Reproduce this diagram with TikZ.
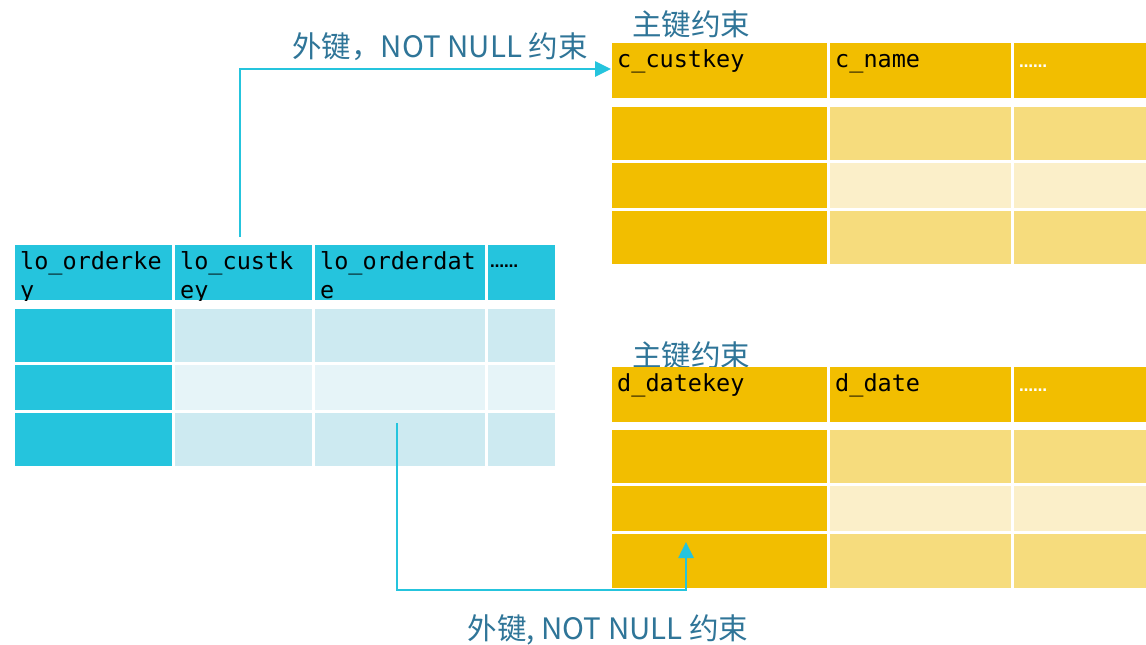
\documentclass[tikz,border=0pt]{standalone}
\usepackage{fontspec}
\usetikzlibrary{arrows.meta,calc}
\newfontfamily\cjkfont{Noto Sans CJK SC}
\newfontfamily\monofont{DejaVu Sans Mono}
\newfontfamily\dotfont{DejaVu Sans}
\definecolor{cyanH}{RGB}{37,196,221}
\definecolor{cyanL}{RGB}{205,234,241}
\definecolor{cyanLL}{RGB}{230,244,248}
\definecolor{goldH}{RGB}{242,190,0}
\definecolor{goldL}{RGB}{246,220,125}
\definecolor{goldLL}{RGB}{251,239,201}
\definecolor{lblblue}{RGB}{47,117,152}
\tikzset{
  cellbox/.style={rectangle,draw=none,inner sep=0pt,outer sep=0pt,anchor=north west},
  hdrtext/.style={anchor=base west,inner sep=0pt,
    font=\monofont\fontsize{23.5}{27}\selectfont,text=black},
  dotstext/.style={anchor=base west,inner sep=0pt,font=\dotfont\bfseries\fontsize{14}{14}\selectfont},
  lbltext/.style={inner sep=0pt,font=\cjkfont\fontsize{29.5}{32}\selectfont,text=lblblue},
  conn/.style={draw=cyanH,line width=2.6pt,-{Triangle[length=16pt,width=15pt]}},
}
\newcommand\cell[6]{\node[cellbox,fill=#6,minimum width={#4pt-#2pt},minimum height={#5pt-#3pt}] (#1) at (#2,#3) {};}
\newcommand\htext[6]{\begin{scope}\clip (#2,#3) rectangle (#4,#5); \node[hdrtext] (#1) at ({#2+5},{#3+24.5}) {\begin{tabular}[t]{@{}l@{}}#6\end{tabular}};\end{scope}}
\begin{document}
\begin{tikzpicture}[x=1pt,y=-1pt]
\useasboundingbox[fill=white] (0,0) rectangle (1146,645);
% labels (behind tables)
\node[lbltext] (pk1) at (691,24) {主键约束};
\node[lbltext] (pk2) at (691,355) {主键约束};
\node[lbltext] (fk1) at (440,47) {外键，NOT NULL 约束};
\node[lbltext] (fk2) at (608,630) {外键, NOT NULL 约束};
% left table
\cell{lh1}{15}{245}{172}{300}{cyanH}
\cell{lh2}{175}{245}{312}{300}{cyanH}
\cell{lh3}{315}{245}{485}{300}{cyanH}
\cell{lh4}{488}{245}{555}{300}{cyanH}
\cell{la1}{15}{309}{172}{362}{cyanH}
\cell{la2}{175}{309}{312}{362}{cyanL}
\cell{la3}{315}{309}{485}{362}{cyanL}
\cell{la4}{488}{309}{555}{362}{cyanL}
\cell{lb1}{15}{365}{172}{410}{cyanH}
\cell{lb2}{175}{365}{312}{410}{cyanLL}
\cell{lb3}{315}{365}{485}{410}{cyanLL}
\cell{lb4}{488}{365}{555}{410}{cyanLL}
\cell{lc1}{15}{413}{172}{466}{cyanH}
\cell{lc2}{175}{413}{312}{466}{cyanL}
\cell{lc3}{315}{413}{485}{466}{cyanL}
\cell{lc4}{488}{413}{555}{466}{cyanL}
\htext{lt1}{15}{245}{172}{300}{lo\_orderke\\[2pt]y}
\htext{lt2}{175}{245}{312}{300}{lo\_custk\\[2pt]ey}
\htext{lt3}{315}{245}{485}{300}{lo\_orderdat\\[2pt]e}
\node[dotstext,text=black] (ld) at (490,267) {……};
% top right table
\cell{ch1}{612}{43}{827}{98}{goldH}
\cell{ch2}{830}{43}{1011}{98}{goldH}
\cell{ch3}{1014}{43}{1146}{98}{goldH}
\cell{ca1}{612}{107}{827}{160}{goldH}
\cell{ca2}{830}{107}{1011}{160}{goldL}
\cell{ca3}{1014}{107}{1146}{160}{goldL}
\cell{cb1}{612}{163}{827}{208}{goldH}
\cell{cb2}{830}{163}{1011}{208}{goldLL}
\cell{cb3}{1014}{163}{1146}{208}{goldLL}
\cell{cc1}{612}{211}{827}{264}{goldH}
\cell{cc2}{830}{211}{1011}{264}{goldL}
\cell{cc3}{1014}{211}{1146}{264}{goldL}
\htext{ct1}{612}{43}{827}{98}{c\_custkey}
\htext{ct2}{830}{43}{1011}{98}{c\_name}
\node[dotstext,text=white] (cd) at (1019,67) {……};
% bottom right table
\cell{dh1}{612}{367}{827}{422}{goldH}
\cell{dh2}{830}{367}{1011}{422}{goldH}
\cell{dh3}{1014}{367}{1146}{422}{goldH}
\cell{da1}{612}{430}{827}{483}{goldH}
\cell{da2}{830}{430}{1011}{483}{goldL}
\cell{da3}{1014}{430}{1146}{483}{goldL}
\cell{db1}{612}{486}{827}{531}{goldH}
\cell{db2}{830}{486}{1011}{531}{goldLL}
\cell{db3}{1014}{486}{1146}{531}{goldLL}
\cell{dc1}{612}{534}{827}{588}{goldH}
\cell{dc2}{830}{534}{1011}{588}{goldL}
\cell{dc3}{1014}{534}{1146}{588}{goldL}
\htext{dt1}{612}{367}{827}{422}{d\_datekey}
\htext{dt2}{830}{367}{1011}{422}{d\_date}
\node[dotstext,text=white] (dd) at (1019,391) {……};
% connectors
\coordinate (s1) at (240,237);
\coordinate (e1) at (611,69);
\draw[conn] (s1) |- (e1);
\coordinate (s2) at (397,423);
\coordinate (b2) at (397,590);
\coordinate (e2) at (686,542);
\draw[conn] (s2) -- (b2) -| (e2);
\end{tikzpicture}
\end{document}
